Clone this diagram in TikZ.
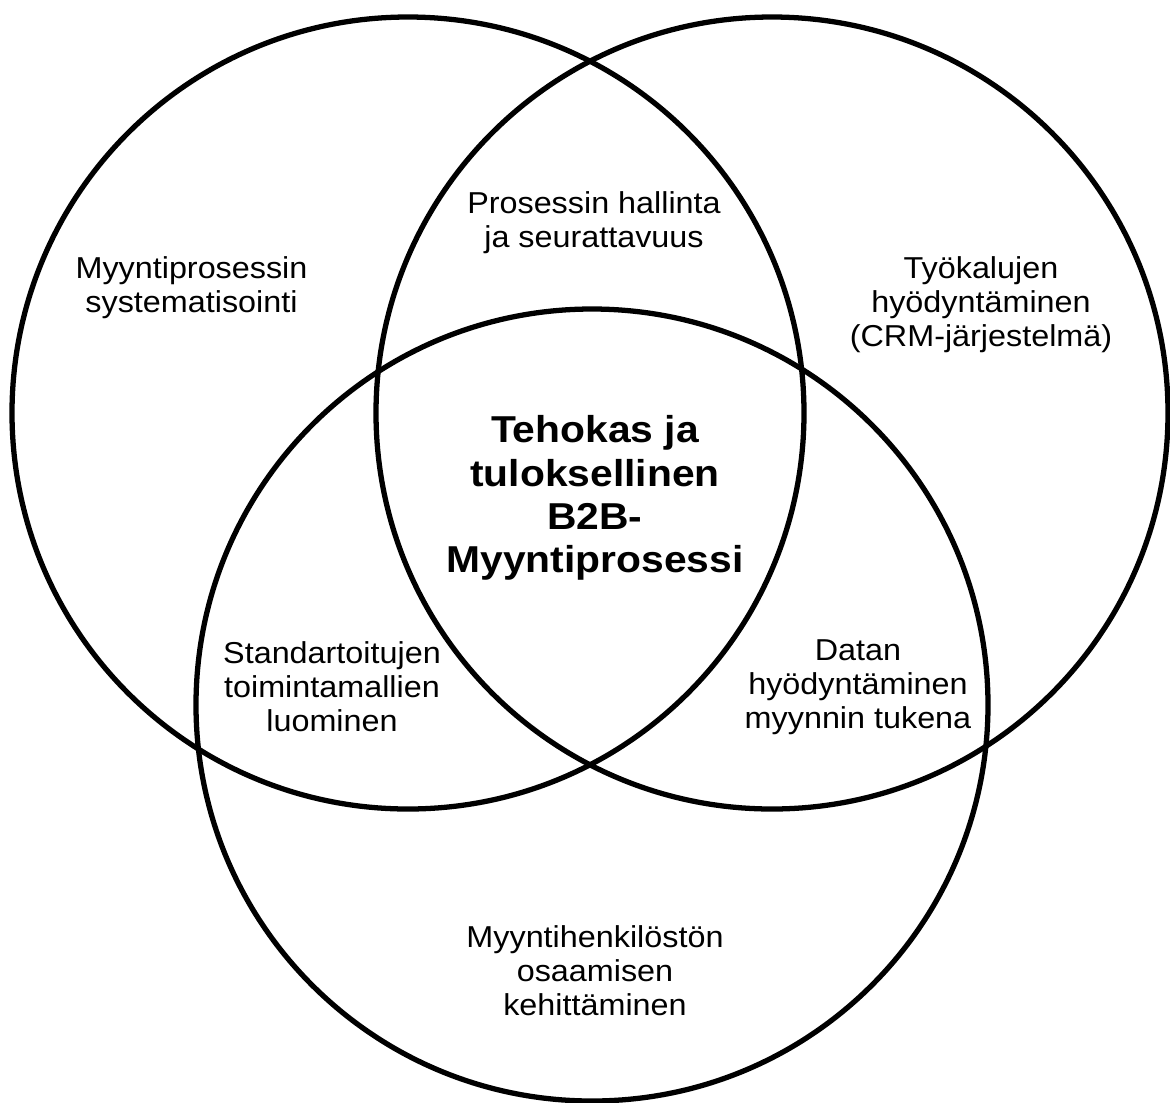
\documentclass[tikz,border=0pt]{standalone}
\usepackage{fontspec}
\setmainfont{Liberation Sans}
\newfontfamily\vennfont[FakeStretch=1.07]{Liberation Sans}
\newfontfamily\vennbold[FakeStretch=1.09]{Liberation Sans}
\usepackage{tikz}

\begin{document}
\begin{tikzpicture}[
    set/.style={circle, draw, line width=3pt, minimum size=15.84cm, inner sep=0pt}, % Venn circles
    textnode/.style={align=center, font=\vennfont\fontsize{17.2}{19.4}\selectfont},% Area labels
    corenode/.style={align=center, font=\vennbold\bfseries\fontsize{21.3}{24.6}\selectfont}
]
    \useasboundingbox (0,0) rectangle (23.4,-22.04);

    % Circles
    \node (sys)   [set] at (8.16,-8.26)   {};
    \node (crm)   [set] at (15.44,-8.26)  {};
    \node (skill) [set] at (11.84,-14.10) {};

    % Single areas
    \node (tsys)   [textnode] at (3.83,-5.76)   {Myyntiprosessin\\systematisointi};
    \node (tcrm)   [textnode] at (19.62,-6.10)  {Työkalujen\\hyödyntäminen\\(CRM-järjestelmä)};
    \node (tskill) [textnode] at (11.90,-19.42) {Myyntihenkilöstön\\osaamisen\\kehittäminen};

    % Overlaps
    \node (tproc) [textnode] at (11.88,-4.46)  {Prosessin hallinta\\ja seurattavuus};
    \node (tstd)  [textnode] at (6.64,-13.74)  {Standartoitujen\\toimintamallien\\luominen};
    \node (tdata) [textnode] at (17.16,-13.74) {Datan\\hyödyntäminen\\myynnin tukena};

    % Centre
    \node (core) [corenode] at (11.90,-9.96) {Tehokas ja\\tuloksellinen\\B2B-\\Myyntiprosessi};

\end{tikzpicture}
\end{document}
